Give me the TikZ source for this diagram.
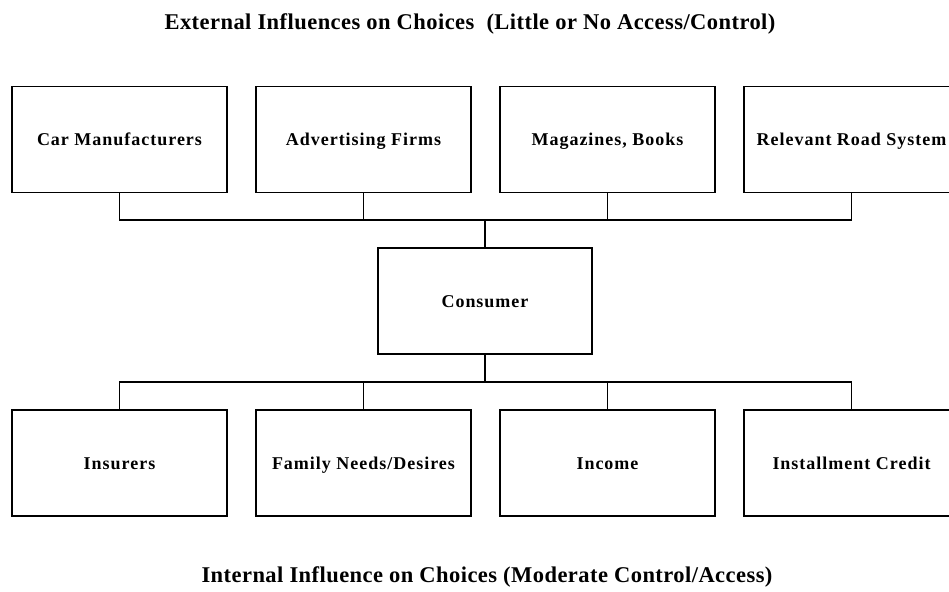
\documentclass[tikz,border=0pt]{standalone}
\usepackage{fontspec}
\setmainfont{Liberation Serif}
\newfontfamily\boxfont[LetterSpace=5.5]{Liberation Serif}
\newfontfamily\headfont[LetterSpace=2]{Liberation Serif}
\begin{document}
\begin{tikzpicture}[x=1pt,y=-1pt,
  box/.style={draw,line width=1.5pt,minimum width=215pt,minimum height=106pt,inner sep=0pt,
    text height=12pt,text depth=0pt,
    font=\boxfont\fontsize{18}{20}\selectfont\bfseries},
  heading/.style={anchor=base,inner sep=0pt,font=\headfont\fontsize{22.5}{26}\selectfont\bfseries},
  link/.style={line width=1.5pt}]
\useasboundingbox (0,0) rectangle (949,591);
\clip (0,0) rectangle (949,591);
\node[heading] (toptitle) at (470,30) {External Influences on Choices\ \ (Little or No Access/Control)};
\node[heading] (bottomtitle) at (487,582) {Internal Influence on Choices (Moderate Control/Access)};

% external influences
\node[box] (t1) at (119.5,139.5) {Car Manufacturers};
\node[box] (t2) at (363.5,139.5) {Advertising Firms};
\node[box] (t3) at (607.5,139.5) {Magazines, Books};
\node[box] (t4) at (851.5,139.5) {Relevant Road System};

% consumer
\node[box,minimum width=214pt] (c) at (485,301) {Consumer};

% internal influences
\node[box] (b1) at (119.5,463) {Insurers};
\node[box] (b2) at (363.5,463) {Family Needs/Desires};
\node[box] (b3) at (607.5,463) {Income};
\node[box] (b4) at (851.5,463) {Installment Credit};

% bus junctions
\coordinate (topbus) at (c.north |- 0,220);
\coordinate (botbus) at (c.south |- 0,382);

\foreach \n in {t1,t2,t3,t4} \draw[link] (\n.south) |- (topbus);
\draw[link] (topbus) -- (c.north);
\draw[link] (c.south) -- (botbus);
\foreach \n in {b1,b2,b3,b4} \draw[link] (botbus) -| (\n.north);
\end{tikzpicture}
\end{document}
